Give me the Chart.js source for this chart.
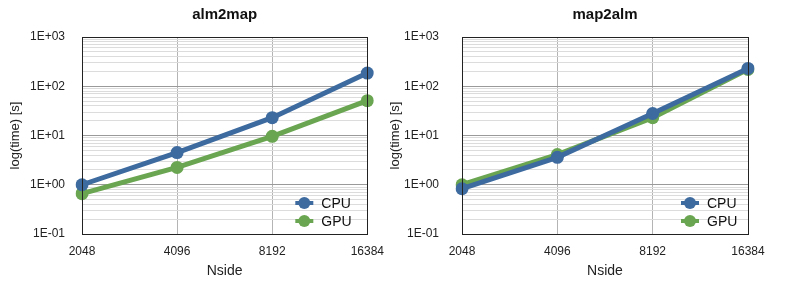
<!DOCTYPE html>
<html>
<head>
<meta charset="utf-8">
<script src="https://cdn.jsdelivr.net/npm/chart.js@4/dist/chart.umd.min.js"></script>
<style>
  html, body { margin: 0; padding: 0; background: #fff; }
  #wrap { position: relative; width: 789px; height: 282px; overflow: hidden; }
  .box { position: absolute; top: 0; height: 282px; }
</style>
</head>
<body>
<div id="wrap">
  <div class="box" style="left:0;width:394px"><canvas id="c1"></canvas></div>
  <div class="box" style="left:380px;width:409px"><canvas id="c2"></canvas></div>
</div>
<script>
// data
const nside = ['2048', '4096', '8192', '16384'];
const alm2mapCPU = [1.0, 4.5, 23, 185];
const alm2mapGPU = [0.66, 2.25, 9.6, 51];
const map2almCPU = [0.83, 3.6, 28, 230];
const map2almGPU = [1.0, 4.1, 23, 220];
const yMin = 0.1, yMax = 1000;

const blue = '#3d6a9f';
const green = '#6aa651';
const font = '"Liberation Sans", Arial, Helvetica, sans-serif';

function isDecade(v) {
  const l = Math.log10(v);
  return Math.abs(l - Math.round(l)) < 1e-9;
}
function sciLabel(v) {
  const e = Math.round(Math.log10(v));
  const s = e < 0 ? '-' : '+';
  return '1E' + s + String(Math.abs(e)).padStart(2, '0');
}

// frame + title + legend drawn on the canvas
const extras = {
  id: 'extras',
  afterDraw(chart, args, opts) {
    const ctx = chart.ctx;
    const a = chart.chartArea;
    ctx.save();
    ctx.strokeStyle = '#222';
    ctx.lineWidth = 1;
    ctx.strokeRect(Math.round(a.left) + 0.5, Math.round(a.top) + 0.5, Math.round(a.right - a.left), Math.round(a.bottom - a.top));

    ctx.fillStyle = '#111';
    ctx.font = 'bold 15px ' + font;
    ctx.textAlign = 'center';
    ctx.textBaseline = 'middle';
    ctx.fillText(opts.title, (a.left + a.right) / 2, 15);

    ctx.font = '14px ' + font;
    ctx.textAlign = 'left';
    chart.data.datasets.forEach((ds, i) => {
      const y = 203 + i * 18;
      const mx = a.right - opts.legendOffset;
      ctx.strokeStyle = ds.borderColor;
      ctx.lineWidth = 4;
      ctx.beginPath();
      ctx.moveTo(mx - 9, y);
      ctx.lineTo(mx + 9, y);
      ctx.stroke();
      ctx.fillStyle = ds.borderColor;
      ctx.beginPath();
      ctx.arc(mx, y, 6, 0, Math.PI * 2);
      ctx.fill();
      ctx.fillStyle = '#111';
      ctx.fillText(ds.label, mx + 17, y + 1);
    });
    ctx.restore();
  }
};

function makeChart(id, title, cpu, gpu, padRight, yTickPad, yTitlePad, legendOffset) {
  return new Chart(document.getElementById(id), {
    type: 'line',
    data: {
      labels: nside,
      datasets: [
        { label: 'CPU', data: cpu, borderColor: blue, backgroundColor: blue, borderWidth: 5, pointRadius: 6.5, pointHoverRadius: 6.5, pointBorderWidth: 0 },
        { label: 'GPU', data: gpu, borderColor: green, backgroundColor: green, borderWidth: 5, pointRadius: 6.5, pointHoverRadius: 6.5, pointBorderWidth: 0 }
      ]
    },
    options: {
      responsive: true,
      maintainAspectRatio: false,
      animation: false,
      layout: { padding: { top: 37, right: padRight, left: 0, bottom: 0 } },
      plugins: {
        legend: { display: false },
        tooltip: { enabled: false },
        extras: { title: title, legendOffset: legendOffset }
      },
      scales: {
        x: {
          type: 'category',
          offset: false,
          grid: { color: '#b4b4b4', drawTicks: false, offset: false },
          border: { color: '#222' },
          ticks: { color: '#222', font: { family: font, size: 12 }, padding: 10, maxRotation: 0 },
          title: { display: true, text: 'Nside', color: '#222', font: { family: font, size: 14 }, padding: { top: 0, bottom: 2 } },
          afterFit(scale) { scale.height = 48; }
        },
        y: {
          type: 'logarithmic',
          min: yMin,
          max: yMax,
          afterBuildTicks(scale) {
            const t = [];
            for (let e = -1; e <= 3; e++) {
              for (let m = 1; m <= 9; m++) {
                const v = Math.round(m * Math.pow(10, e) * 1000) / 1000;
                if (v <= yMax) t.push({ value: v, major: m === 1 });
              }
            }
            scale.ticks = t;
          },
          grid: {
            drawTicks: false,
            color: (c) => (c.tick && isDecade(c.tick.value) ? '#9a9a9a' : '#dcdcdc')
          },
          border: { color: '#222' },
          ticks: {
            autoSkip: false,
            color: '#222',
            font: { family: font, size: 12 },
            padding: yTickPad,
            callback: (v) => (isDecade(v) ? sciLabel(v) : '')
          },
          title: { display: true, text: 'log(time) [s]', color: '#222', font: { family: font, size: 13 }, padding: { top: yTitlePad, bottom: 0 } },
          afterFit(scale) { scale.width = 82; }
        }
      }
    },
    plugins: [extras]
  });
}

makeChart('c1', 'alm2map', alm2mapCPU, alm2mapGPU, 26, 17, 8, 63);
makeChart('c2', 'map2alm', map2almCPU, map2almGPU, 41, 23, 8, 58);
</script>
</body>
</html>
